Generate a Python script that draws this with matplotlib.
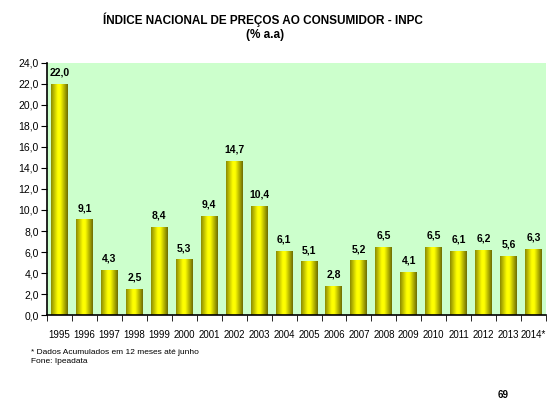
import numpy as np
import matplotlib
matplotlib.use("Agg")
import matplotlib.pyplot as plt
from matplotlib.colors import LinearSegmentedColormap

anos = ['1995', '1996', '1997', '1998', '1999', '2000', '2001', '2002', '2003', '2004',
        '2005', '2006', '2007', '2008', '2009', '2010', '2011', '2012', '2013', '2014*']
inpc = [22.0, 9.1, 4.3, 2.5, 8.4, 5.3, 9.4, 14.7, 10.4, 6.1,
        5.1, 2.8, 5.2, 6.5, 4.1, 6.5, 6.1, 6.2, 5.6, 6.3]

plt.rcParams['font.family'] = ['Liberation Sans Narrow', 'Liberation Sans', 'DejaVu Sans']

fig = plt.figure(figsize=(5.57, 4.19), dpi=100)
ax = fig.add_axes([0.0844, 0.248, 0.896, 0.602])
ax.set_facecolor('#CCFFCC')

x = np.arange(len(anos))
barras = ax.bar(x, inpc, width=0.68, color='#CCCC00', zorder=2)

# gradiente amarelo nas barras
cmap = LinearSegmentedColormap.from_list('amarelo', [(0, '#8C8C00'), (0.4, '#FFFF00'),
                                                     (0.55, '#FFFF00'), (1, '#6E6E00')])
grad = np.linspace(0, 1, 64).reshape(1, -1)
for b in barras:
    b.set_facecolor('none')
    x0, w, h = b.get_x(), b.get_width(), b.get_height()
    im = ax.imshow(grad, cmap=cmap, aspect='auto', extent=(x0, x0 + w, 0, h), zorder=2)
    im.set_clip_path(b)

for xi, v in zip(x, inpc):
    ax.text(xi, v + 0.6, f'{v:.1f}'.replace('.', ','), ha='center', va='bottom',
            fontsize=7.5, fontweight='bold')

ax.set_xlim(-0.5, len(anos) - 0.5)
ax.set_ylim(0, 24)
ax.set_yticks(np.arange(0, 25, 2))
ax.set_yticklabels([f'{t:.1f}'.replace('.', ',') for t in np.arange(0, 25, 2)], fontsize=7.5)
ax.set_xticks(x)
ax.set_xticklabels(anos, fontsize=7)
ax.set_xticks(np.arange(-0.5, len(anos), 1), minor=True)
ax.tick_params(axis='x', which='major', length=0, pad=11)
ax.tick_params(axis='x', which='minor', length=4, direction='out')
ax.tick_params(axis='y', length=4, direction='out', pad=2)
for lado in ['top', 'right']:
    ax.spines[lado].set_visible(False)
ax.spines['left'].set_linewidth(1.2)
ax.spines['bottom'].set_linewidth(1.2)

fig.text(0.472, 0.952, 'ÍNDICE NACIONAL DE PREÇOS AO CONSUMIDOR - INPC', ha='center', va='center',
         fontsize=8.5, fontweight='bold', family=['Liberation Sans', 'DejaVu Sans'])
fig.text(0.476, 0.916, '(% a.a)', ha='center', va='center', fontsize=8.5, fontweight='bold',
         family=['Liberation Sans', 'DejaVu Sans'])
fig.text(0.056, 0.159, '* Dados Acumulados em 12 meses até junho', fontsize=6, va='center')
fig.text(0.056, 0.137, 'Fone: Ipeadata', fontsize=6, va='center')
fig.text(0.893, 0.057, '69', fontsize=7, fontweight='bold', va='center')

fig.savefig('out.png', dpi=100)
